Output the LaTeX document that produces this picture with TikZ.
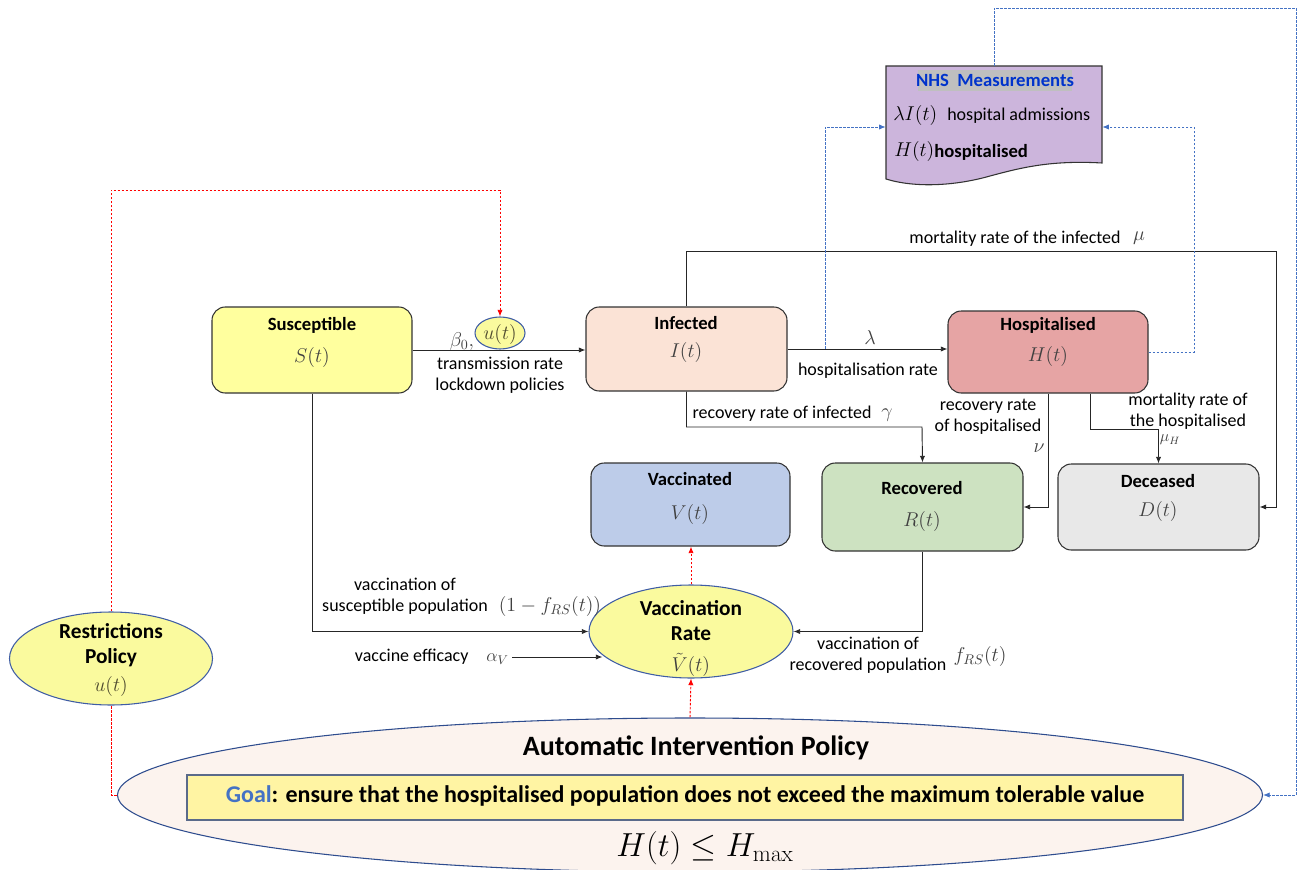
\RequirePackage{fix-cm}
\documentclass[tikz,border=0pt]{standalone}
\usepackage[no-math]{fontspec}
\setmainfont{Carlito}
\usetikzlibrary{arrows.meta,shapes.geometric,calc}
\definecolor{suscol}{HTML}{FFFF9E}
\definecolor{infcol}{HTML}{FBE3D6}
\definecolor{hoscol}{HTML}{E6A4A4}
\definecolor{vaccol}{HTML}{BDCCE9}
\definecolor{reccol}{HTML}{CDE2C1}
\definecolor{deccol}{HTML}{E8E8E8}
\definecolor{nhscol}{HTML}{CCB5DC}
\definecolor{ellfill}{HTML}{FAFA9E}
\definecolor{ellline}{HTML}{3F5DA5}
\definecolor{aipfill}{HTML}{FCF3EE}
\definecolor{aipline}{HTML}{2E4C8E}
\definecolor{goalfill}{HTML}{FFF4A3}
\definecolor{goalline}{HTML}{5A6A8A}
\definecolor{mathgray}{HTML}{404040}
\definecolor{nhsblue}{HTML}{4472C4}
\definecolor{nhstext}{HTML}{0033CC}
\definecolor{goalblue}{HTML}{4472C4}
\tikzset{
  box/.style={draw=black!80, line width=0.8pt, rounded corners=10pt, inner sep=0pt},
  ell/.style={ellipse, draw=ellline, line width=0.8pt, fill=ellfill, inner sep=0pt},
  ttl/.style={font=\fontsize{14}{16}\selectfont\bfseries, inner sep=0pt},
  bigttl/.style={font=\fontsize{16}{19}\selectfont\bfseries, inner sep=0pt},
  mth/.style={font=\fontsize{15}{18}\selectfont, text=mathgray, inner sep=0pt},
  lbl/.style={font=\fontsize{13.5}{15.75}\selectfont, align=center, inner sep=0pt},
  conn/.style={draw=black!85, line width=0.7pt, -{Latex[length=5pt,width=4pt]}},
  reddash/.style={draw=red, line width=0.7pt, dash pattern=on 2pt off 1pt},
  bluedash/.style={draw=nhsblue, line width=0.7pt, dash pattern=on 2pt off 1pt},
  redtip/.style={-{Latex[length=5pt,width=4pt]}},
}
\begin{document}
\begin{tikzpicture}[x=0.75pt,y=-0.75pt]
\useasboundingbox (0,0) rectangle (1306,870);

% ---------- compartment boxes ----------
\node[box, fill=suscol, minimum width=150pt, minimum height=64.5pt] (S) at (312,350) {};
\node[box, fill=infcol, minimum width=150.75pt, minimum height=63pt] (I) at (686.5,349) {};
\node[box, fill=hoscol, minimum width=150pt, minimum height=61.5pt] (H) at (1048,352) {};
\node[box, fill=vaccol, minimum width=149.25pt, minimum height=62.25pt] (Vd) at (690.5,504.5) {};
\node[box, fill=reccol, minimum width=150.75pt, minimum height=66pt] (R) at (922.5,507) {};
\node[box, fill=deccol, minimum width=150.75pt, minimum height=64.5pt] (D) at (1158.5,507) {};

\node[ttl] (St) at (312,325) {Susceptible};
\node[mth] (Sm) at (312,357) {$S(t)$};
\node[ttl] (It) at (686,323) {Infected};
\node[mth] (Im) at (686,352) {$I(t)$};
\node[ttl] (Ht) at (1048,325) {Hospitalised};
\node[mth] (Hm) at (1048,356) {$H(t)$};
\node[ttl] (Vt) at (690,479) {Vaccinated};
\node[mth] (Vm) at (690,514) {$V(t)$};
\node[ttl] (Rt) at (922,488) {Recovered};
\node[mth] (Rm) at (922,521) {$R(t)$};
\node[ttl] (Dt) at (1158,481) {Deceased};
\node[mth] (Dm) at (1158,511) {$D(t)$};

% ---------- NHS measurements (document shape) ----------
\node[minimum width=162pt, minimum height=91.5pt, inner sep=0pt] (nhs) at (994,127) {};
\draw[fill=nhscol, draw=black!80, line width=0.8pt]
  (886,66) -- (1102,66) -- (1102,163)
  .. controls (1050,160) and (1020,168) .. (990,176)
  .. controls (955,186) and (915,188) .. (886,179) -- cycle;
\fill[black!25] (918,70) rectangle (1072,91);
\node[ttl, text=nhstext] (nhsT) at (995,80.5) {NHS\ \ Measurements};
\node[mth, text=black, anchor=west] (nhsL) at (893,116) {$\lambda I(t)$};
\node[lbl, anchor=west] (nhsA) at (947,116) {hospital admissions};
\node[mth, text=black, anchor=west] (nhsH) at (894,152) {$H(t)$};
\node[ttl, anchor=west] (nhsB) at (934,152) {hospitalised};

% ---------- ellipses ----------
\node[ell, minimum width=37.5pt, minimum height=24pt] (u) at (500,333) {};
\node[mth, text=black!60!olive] (um) at (500,334) {$u(t)$};
\node[mth] (beta) at (462,341) {$\beta_0,$};

\node[ell, minimum width=153pt, minimum height=69.75pt] (VR) at (691,631.5) {};
\node[bigttl] (VRa) at (691,608) {Vaccination};
\node[bigttl] (VRb) at (691,634) {Rate};
\node[mth] (VRm) at (691,665) {$\tilde V(t)$};

\node[ell, minimum width=152.25pt, minimum height=69.75pt] (RP) at (111,658.5) {};
\node[bigttl] (RPa) at (111,631) {Restrictions};
\node[bigttl] (RPb) at (111,658) {Policy};
\node[mth, text=black!60!olive] (RPm) at (111,686) {$u(t)$};

\node[ellipse, draw=aipline, line width=0.8pt, fill=aipfill, inner sep=0pt,
      minimum width=858.75pt, minimum height=115.5pt] (AIP) at (690,795) {};
\node[font=\fontsize{21}{24}\selectfont\bfseries, inner sep=0pt] (AIPt) at (696,748) {Automatic Intervention Policy};
\node[draw=goalline, line width=0.8pt, fill=goalfill, minimum width=747pt, minimum height=33.75pt, inner sep=0pt] (goal) at (685,797.5) {};
\node[font=\fontsize{18}{21}\selectfont\bfseries, inner sep=0pt] (goalt) at (685,796)
  {\textcolor{goalblue}{Goal}: ensure that the hospitalised population does not exceed the maximum tolerable value};
\node[font=\fontsize{25}{28}\selectfont, inner sep=0pt] (Hmax) at (705,848) {$H(t)\le H_{\max}$};

% ---------- flows ----------
\draw[conn] (S.east) -- (S.east -| I.west);
\node[lbl] (trans) at (500,375) {transmission rate\\lockdown policies};

\draw[conn] (I.east) -- (I.east -| H.west);
\node[mth] (lam) at (870,338) {$\lambda$};
\node[lbl] (hrate) at (868,371) {hospitalisation rate};

\coordinate (mI) at (1276,251);
\draw[conn] (I.north) |- (mI) |- (D.east);
\node[lbl] (mIl) at (1015,239) {mortality rate of the infected};
\node[mth] (mu) at (1139,238) {$\mu$};

\coordinate (rI) at (922,427);
\draw[conn] (I.south) |- (rI) -- (R.north);
\node[lbl] (rIl) at (782,414) {recovery rate of infected};
\node[mth] (gam) at (887,415) {$\gamma$};

\draw[conn] (H.south) |- (R.east);
\node[lbl] (rHl) at (988,417) {recovery rate\\of hospitalised};
\node[mth] (nu) at (1039,448) {$\nu$};

\coordinate (hD) at (1090,429);
\draw[conn] (hD |- H.south) -- (hD) -| (D.north);
\node[lbl] (mHl) at (1188,411) {mortality rate of\\the hospitalised};
\node[mth, font=\fontsize{12}{14}\selectfont] (muH) at (1170,440) {$\mu_H$};

\draw[conn] (S.south) |- (VR.west);
\node[lbl] (vs1) at (405,596) {vaccination of\\susceptible population};
\node[mth] (vs3) at (550,606) {$(1-f_{RS}(t))$};

\node[lbl, anchor=east] (eff) at (512,657) {vaccine efficacy\quad\textcolor{mathgray}{$\alpha_V$}\,};
\draw[conn] (eff.east) -- (eff.east -| VR.195.8);

\draw[conn] (R.south) |- (VR.east);
\node[lbl] (vr1) at (868,655) {vaccination of\\recovered population};
\node[mth] (vr2) at (980,656) {$f_{RS}(t)$};

% ---------- control (red dashed) ----------
\draw[reddash, redtip] (VR.north) -- (VR.north |- Vd.south);
\draw[reddash, redtip] (AIP.north) -- (VR.south);
\draw[reddash] (AIP.west) -| (RP.south);
\coordinate (rt) at (500,190);
\draw[reddash, redtip] (RP.north) |- (rt) -- (u.north);

% ---------- measurements (blue dashed) ----------
\coordinate (b1) at (825,127);
\draw[bluedash, redtip] (b1 |- I.east) -- (b1) -- (nhs.west);
\coordinate (b2) at (1194,127);
\draw[bluedash, redtip] (H.east) -| (b2) -- (nhs.east);
\coordinate (b3) at (1296,8);
\draw[bluedash, redtip] (nhs.north) |- (b3) |- (AIP.east);
\end{tikzpicture}
\end{document}
